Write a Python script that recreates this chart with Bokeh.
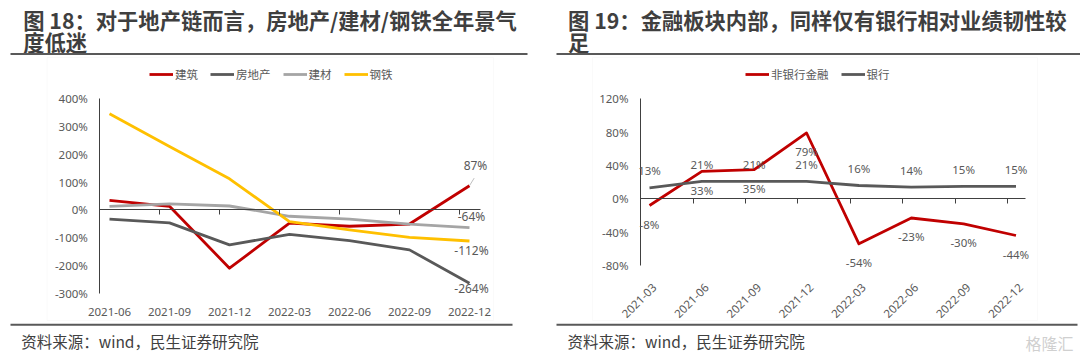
from math import pi
from bokeh.plotting import figure
from bokeh.models import (LinearAxis, FixedTicker, Range1d, Label, LabelSet, Legend,
                          LegendItem, BoxAnnotation, ColumnDataSource)
from bokeh.embed import file_html
from bokeh.resources import INLINE
from bokeh.core.properties import value

# ---------------- data ----------------
left_title_1 = "图 18：对于地产链而言，房地产/建材/钢铁全年景气"
left_title_2 = "度低迷"
right_title_1 = "图 19：金融板块内部，同样仅有银行相对业绩韧性较"
right_title_2 = "足"
source_text = "资料来源：wind，民生证券研究院"
watermark_text = "格隆汇"

left_categories = ["2021-06", "2021-09", "2021-12", "2022-03", "2022-06", "2022-09", "2022-12"]
construction = [34, 13, -210, -48, -59, -51, 87]
real_estate = [-33, -47, -126, -88, -111, -144, -264]
building_materials = [13, 22, 14, -23, -33, -51, -64]
steel = [346, 228, 112, -42, -72, -99, -112]
left_series_names = ["建筑", "房地产", "建材", "钢铁"]
left_yticks = [-300, -200, -100, 0, 100, 200, 300, 400]
left_ytick_labels = ["-300%", "-200%", "-100%", "0%", "100%", "200%", "300%", "400%"]

right_categories = ["2021-03", "2021-06", "2021-09", "2021-12", "2022-03", "2022-06", "2022-09", "2022-12"]
nonbank = [-8, 33, 35, 79, -54, -23, -30, -44]
bank = [13, 21, 21, 21, 16, 14, 15, 15]
right_series_names = ["非银行金融", "银行"]
right_yticks = [-80, -40, 0, 40, 80, 120]
right_ytick_labels = ["-80%", "-40%", "0%", "40%", "80%", "120%"]

# ---------------- styles / layout ----------------
W, H = 1080, 361
CJK = "Noto Sans CJK SC"
LATIN = "Noto Sans, Noto Sans CJK SC"
TXT = "#595959"
DARK = "#3f3f3f"
RULE = "#595959"
AXIS = "#404040"
left_colors = ["#C00000", "#595959", "#A5A5A5", "#FFC000"]
right_colors = ["#C00000", "#595959"]
LW = 2.8


def full_range(d0, d1, p0, p1, full, flip=False):
    """Range over the whole canvas such that data d0 sits at pixel p0 and d1 at p1."""
    s = (d1 - d0) / (p1 - p0)
    a = d0 - p0 * s
    b = d0 + (full - p0) * s
    return Range1d(b, a) if flip else Range1d(a, b)


p = figure(width=W, height=H, output_backend="svg", toolbar_location=None,
           x_axis_type=None, y_axis_type=None,
           x_range=Range1d(0, W), y_range=Range1d(H, 0),
           min_border_left=0, min_border_right=0, min_border_top=0, min_border_bottom=0)
p.outline_line_color = None
p.background_fill_color = "white"
p.border_fill_color = "white"


def chart(tag, cats, yticks, ylabels, box, xlim, tick_offset, rotate, label_shift):
    left, right, top, bottom = box
    x0, x1 = xlim
    y0, y1 = yticks[0], yticks[-1]
    p.extra_x_ranges[tag + "x"] = full_range(x0, x1, left, right, W)
    p.extra_y_ranges[tag + "y"] = full_range(y1, y0, top, bottom, H, flip=True)
    p.extra_x_ranges[tag + "xl"] = full_range(x0, x1, left + label_shift, right + label_shift, W)
    yax = LinearAxis(x_range_name=tag + "x", y_range_name=tag + "y", fixed_location=x0,
                     bounds=(y0, y1), ticker=FixedTicker(ticks=yticks),
                     major_label_overrides=dict(zip(yticks, ylabels)),
                     axis_line_color=AXIS, axis_line_width=1,
                     major_tick_line_color=None, minor_tick_line_color=None,
                     major_tick_in=0, major_tick_out=0, major_label_standoff=12,
                     major_label_text_font=LATIN, major_label_text_font_size="11.5px",
                     major_label_text_color=TXT)
    p.add_layout(yax, "left")
    xs = list(range(len(cats)))
    xax = LinearAxis(x_range_name=tag + "xl", y_range_name=tag + "y", fixed_location=y0,
                     bounds=(x0, x1), ticker=FixedTicker(ticks=xs),
                     major_label_overrides=dict(zip(xs, cats)),
                     axis_line_color=None, major_tick_line_color=None,
                     minor_tick_line_color=None, major_tick_in=0, major_tick_out=0,
                     major_label_standoff=20 if rotate else 15,
                     major_label_text_font=LATIN, major_label_text_font_size="11.5px",
                     major_label_text_color=TXT)
    if rotate:
        xax.major_label_orientation = pi / 4
    p.add_layout(xax, "below")
    zax = LinearAxis(x_range_name=tag + "x", y_range_name=tag + "y", fixed_location=0,
                     bounds=(x0, x1),
                     ticker=FixedTicker(ticks=[i + tick_offset for i in range(len(cats) - 1)]),
                     axis_line_color=AXIS, axis_line_width=1,
                     major_tick_line_color=AXIS, minor_tick_line_color=None,
                     major_tick_in=0, major_tick_out=5, major_label_standoff=0,
                     major_label_text_font_size="0px", major_label_text_color=None)
    p.add_layout(zax, "below")
    return xs


def frame_text(title1, title2, tx, rule_l, rule_r, brule_r, src_x, panel_box):
    bl, br = panel_box
    p.add_layout(BoxAnnotation(left=bl, right=br, top=57, bottom=320, fill_alpha=0,
                               line_color="#efefef", line_width=1))
    p.add_layout(Label(x=tx, y=18.8, text=title1, text_font=CJK, text_font_style="bold",
                       text_font_size="21.3px", text_color=DARK, text_baseline="middle",
                       text_align="left"))
    p.add_layout(Label(x=tx, y=40.5, text=title2, text_font=CJK, text_font_style="bold",
                       text_font_size="21.3px", text_color=DARK, text_baseline="middle",
                       text_align="left"))
    p.add_layout(BoxAnnotation(left=rule_l, right=rule_r, top=52.4, bottom=54.4,
                               fill_color=RULE, fill_alpha=1, line_color=None))
    p.add_layout(BoxAnnotation(left=rule_l, right=brule_r, top=323.3, bottom=325.3,
                               fill_color=RULE, fill_alpha=1, line_color=None))
    p.add_layout(Label(x=src_x, y=340, text=source_text, text_font=CJK,
                       text_font_size="15.5px", text_color="#404040",
                       text_baseline="middle", text_align="left"))


# ---------------- left chart ----------------
frame_text(left_title_1, left_title_2, 22.7, 10, 527, 512, 20.7, (46.6, 493))
lx = chart("l", left_categories, left_yticks, left_ytick_labels,
           (99.4, 479.6, 98.3, 292.7), (-0.16, 6.177), 0.84, False, 0)
left_series = [construction, real_estate, building_materials, steel]
items = []
for name, ys, c in zip(left_series_names, left_series, left_colors):
    r = p.line(lx, ys, line_color=c, line_width=LW, line_join="round",
               x_range_name="lx", y_range_name="ly")
    items.append(LegendItem(label=name, renderers=[r]))
p.add_layout(Legend(items=items, orientation="horizontal", location=(149, H - 82),
                    glyph_width=24, glyph_height=16, label_height=16, label_standoff=2,
                    spacing=12, padding=0, margin=0, border_line_color=None,
                    background_fill_alpha=0, label_text_font=CJK,
                    label_text_font_size="11.5px", label_text_color=TXT), "center")

end_offsets = [(6, 20), (2, -5), (2, 11), (2, -10)]
last = len(left_categories) - 1
for ys, (dx, dy) in zip(left_series, end_offsets):
    p.add_layout(Label(x=last, y=ys[-1], x_offset=dx, y_offset=dy, text=f"{ys[-1]}%",
                       x_range_name="lx", y_range_name="ly",
                       text_font=LATIN, text_font_size="12px", text_color=TXT,
                       text_align="center", text_baseline="middle"))
px_per_x, px_per_y = 60.0, 194.4 / 700.0
p.segment(x0=[last], y0=[construction[-1]], x1=[last + 4.7 / px_per_x],
          y1=[construction[-1] + 7.6 / px_per_y], line_color="#bfbfbf", line_width=1,
          x_range_name="lx", y_range_name="ly")

# ---------------- right chart ----------------
frame_text(right_title_1, right_title_2, 567.6, 556, 1080, 1077, 567, (592, 1037))
rx = chart("r", right_categories, right_yticks, right_ytick_labels,
           (640, 1024.7, 98.3, 265), (-0.172, 7.176), 0.836, True, 5)
items2 = []
for name, ys, c in zip(right_series_names, [nonbank, bank], right_colors):
    r = p.line(rx, ys, line_color=c, line_width=LW, line_join="round",
               x_range_name="rx", y_range_name="ry")
    items2.append(LegendItem(label=name, renderers=[r]))
p.add_layout(Legend(items=items2, orientation="horizontal", location=(745, H - 82),
                    glyph_width=24, glyph_height=16, label_height=16, label_standoff=2,
                    spacing=12, padding=0, margin=0, border_line_color=None,
                    background_fill_alpha=0, label_text_font=CJK,
                    label_text_font_size="11.5px", label_text_color=TXT), "center")

for ys, dy in zip([nonbank, bank], [-19, 17]):
    src = ColumnDataSource(dict(x=rx, y=ys, t=[f"{v}%" for v in ys]))
    p.add_layout(LabelSet(x="x", y="y", text="t", source=src, y_offset=dy,
                          x_range_name="rx", y_range_name="ry",
                          text_align="center", text_baseline="middle",
                          text_font=value(LATIN), text_font_size="11.5px",
                          text_color=TXT))

p.add_layout(Label(x=1073, y=342, text=watermark_text, text_font=CJK, text_font_size="16px",
                   text_color="#d0d0d0", text_align="right", text_baseline="middle"))

open("out.html", "w").write(file_html(p, INLINE))
